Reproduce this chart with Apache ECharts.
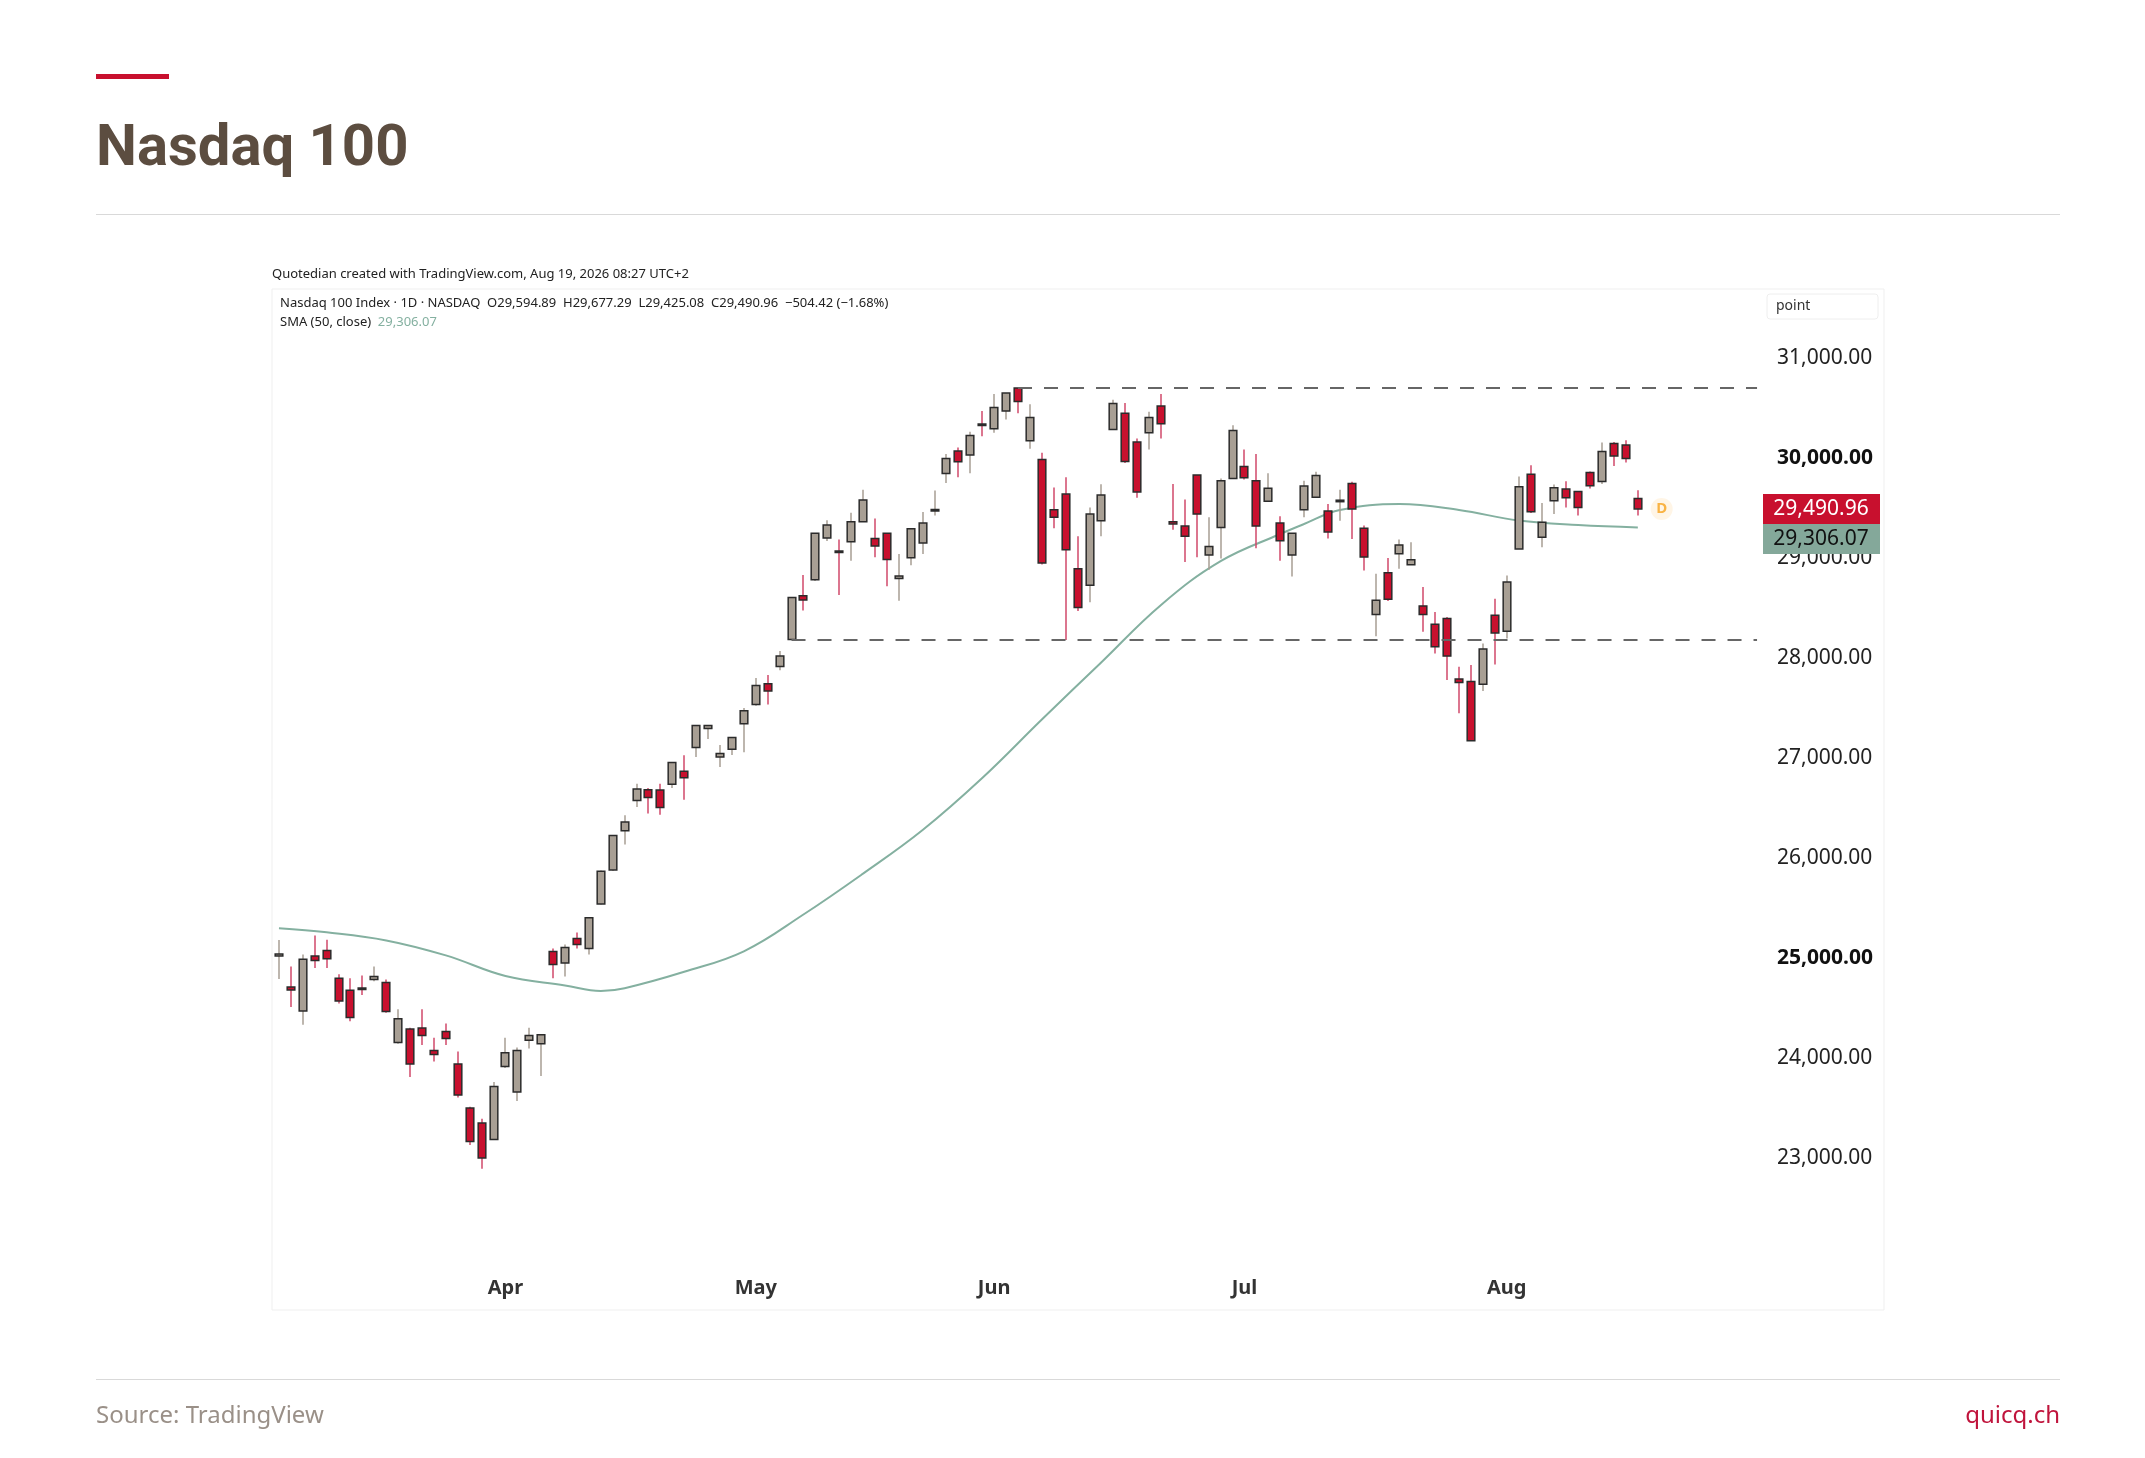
<!DOCTYPE html>
<html><head><meta charset="utf-8">
<script src="https://cdn.jsdelivr.net/npm/echarts@6/dist/echarts.min.js"></script>
<style>html,body{margin:0;padding:0;background:#fff}#c{width:2145px;height:1458px}</style>
</head><body><div id="c"></div>
<script>
// Open, Close, Low, High per trading day (Mar 5 – Aug 18, 2026)
const opens=[25020,24710,24470,25020,25076,24797,24677,24700,24785,24755,24155,24290,24300,24076,24266,23940,23500,23350,23184,
23916,23660,24178,24142,25065,24950,25195,25094,25540,25880,26272,26576,26683,26680,26737,26867,27105,27295,27010,27087,27343,
27534,27742,27914,28185,28622,28783,29200,29070,29163,29363,29195,29248,28794,29003,29150,29480,29844,30070,30030,30340,
30293,30470,30700,30173,29986,29483,29639,28892,28727,29372,30284,30448,30159,30253,30520,29363,29319,29830,29030,29306,29795,
29915,29772,29568,29350,29030,29483,29608,29470,29570,29745,29297,28434,28853,29042,28932,28521,28338,28394,27790,27764,27737,
28428,28268,29091,29838,29208,29573,29689,29666,29855,29765,30144,30130,29594.89];
const closes=[25040,24680,24987,24975,24993,24570,24404,24690,24815,24464,24393,23940,24226,24035,24196,23630,23166,23000,23716,
24053,24076,24226,24232,24935,25106,25136,25403,25868,26225,26361,26689,26606,26505,26956,26802,27325,27325,27046,27206,27473,
27724,27670,28021,28605,28580,29247,29330,29060,29363,29581,29119,28985,28820,29292,29350,29485,29995,29963,30226,30330,
30506,30649,30564,30404,28950,29408,29083,28505,29439,29630,30546,29964,29661,30404,30342,29341,29217,29439,29114,29772,30275,
29803,29319,29697,29172,29248,29719,29826,29261,29578,29490,29009,28577,28587,29131,28982,28434,28112,28019,27754,27173,28089,
28251,28760,29712,29463,29358,29702,29603,29506,29722,30064,30021,29995,29490.96];
const highs=[25180,24915,25035,25225,25183,24838,24797,24826,24915,24785,24488,24302,24488,24202,24344,24065,23512,23392,23760,
24202,24106,24302,24240,25094,25136,25255,25410,25875,26230,26427,26742,26700,26742,26960,27028,27330,27330,27130,27210,27500,
27800,27830,28069,28610,28830,29250,29378,29185,29452,29683,29394,29250,29039,29295,29461,29675,30040,30106,30262,30470,
30640,30650,30700,30537,30053,29706,29808,29217,29506,29737,30582,30550,30195,30462,30640,29741,29586,29830,29408,29795,30328,
30084,30040,29848,29417,29250,29772,29862,29541,29683,29762,29324,28843,28999,29184,29158,28710,28461,28411,27913,27930,28145,
28593,28826,29815,29928,29550,29735,29768,29666,29865,30154,30160,30177,29677.29];
const lows=[24790,24510,24332,24900,24900,24545,24368,24630,24767,24452,24143,23810,24130,23964,24130,23606,23130,22893,23184,
23900,23570,24094,23820,24797,24815,25094,25035,25535,25870,26135,26510,26445,26433,26700,26582,27010,27190,26910,27030,27057,
27522,27534,27878,28180,28474,28770,29170,28630,28972,29360,29008,28718,28572,28928,29039,29426,29750,29808,29848,30218,
30253,30386,30448,30093,28936,29297,28180,28470,28558,29217,30280,29950,29603,30084,30195,29283,28959,29008,28883,28994,29790,
29786,29097,29565,28972,28816,29408,29600,29195,29372,29190,28876,28218,28570,28893,28930,28262,28046,27780,27448,27170,27671,
27936,28195,29090,29450,29108,29440,29506,29424,29695,29740,29921,29954,29425.08];
// SMA(50) read at selected days (index -> value)
const smaIdx=[0,4,9,14,19,24,27,29,34,39,44,49,54,59,64,69,74,79,84,86,89,94,99,104,109,114];
const smaVal=[25298,25257,25176,25026,24820,24726,24670,24698,24862,25067,25435,25844,26280,26800,27385,27958,28531,28968,29240,29340,29480,29540,29480,29375,29330,29306.07];
const yTicks=[23000,24000,25000,26000,27000,28000,29000,30000,31000];
const resistance=30700, support=28180;
const lastClose=29490.96, lastSma=29306.07;

// trading-day categories
const holidays=['2026-04-03','2026-05-25','2026-06-19','2026-07-03'];
const cats=[];
{let d=new Date(Date.UTC(2026,2,5));
 while(cats.length<opens.length){const w=d.getUTCDay();const s=d.toISOString().slice(0,10);
  if(w!==0&&w!==6&&holidays.indexOf(s)<0)cats.push(s);d=new Date(d.getTime()+86400000);}}
const N=cats.length;
for(let i=0;i<10;i++)cats.push('pad'+i);
const monthNames=['Jan','Feb','Mar','Apr','May','Jun','Jul','Aug','Sep','Oct','Nov','Dec'];
const firstOfMonth={};
for(let i=1;i<N;i++){if(cats[i].slice(5,7)!==cats[i-1].slice(5,7))firstOfMonth[i]=monthNames[+cats[i].slice(5,7)-1];}

const ohlc=opens.map((o,i)=>[i,o,closes[i],lows[i],highs[i]]);
const sma=new Array(N).fill(null);smaIdx.forEach((k,j)=>sma[k]=smaVal[j]);

const chart=echarts.init(document.getElementById('c'));
const F='"Noto Sans", sans-serif';
const baseGraphic=[
  {type:'rect',shape:{x:96,y:74,width:73,height:5},style:{fill:'#c8102e'}},
  {type:'text',x:96,y:121,style:{text:'Nasdaq 100',font:'bold 58px Roboto, sans-serif',fill:'#5c4d40'}},
  {type:'rect',shape:{x:96,y:214,width:1964,height:1},style:{fill:'#d9d9d9'}},
  {type:'rect',shape:{x:96,y:1379,width:1964,height:1},style:{fill:'#d9d9d9'}},
  {type:'text',x:96,y:1404,style:{text:'Source: TradingView',font:'24px '+F,fill:'#9a9088'}},
  {type:'text',x:2060,y:1404,style:{text:'quicq.ch',font:'24px '+F,fill:'#c0143c',align:'right'}},
  {type:'rect',shape:{x:272,y:289,width:1612,height:1021},style:{fill:'none',stroke:'#efefef',lineWidth:1}},
  {type:'text',x:272,y:268,style:{text:'Quotedian created with TradingView.com, Aug 19, 2026 08:27 UTC+2',font:'13px '+F,fill:'#222'}},
  {type:'text',x:280,y:297,style:{text:'Nasdaq 100 Index · 1D · NASDAQ  O29,594.89  H29,677.29  L29,425.08  C29,490.96  −504.42 (−1.68%)',font:'13px '+F,fill:'#222'}},
  {type:'text',x:280,y:316,style:{rich:{a:{font:'13px '+F,fill:'#222'},b:{font:'13px '+F,fill:'#84b0a0'}},text:'{a|SMA (50, close)}  {b|29,306.07}'}},
  {type:'rect',shape:{x:1767,y:294,width:111,height:25,r:3},style:{fill:'#fff',stroke:'#eeeeee'}},
  {type:'text',x:1776,y:299,style:{text:'point',font:'14px '+F,fill:'#333'}}
];
chart.setOption({
 animation:false,
 graphic:baseGraphic,
 grid:{left:273,right:382,top:338,bottom:200},
 xAxis:{type:'category',data:cats,boundaryGap:true,
  axisLine:{show:false},axisTick:{show:false},splitLine:{show:false},
  axisLabel:{interval:(i)=>firstOfMonth[i]!==undefined,formatter:(v,i)=>firstOfMonth[i]||'',
   fontSize:20,fontWeight:'bold',color:'#333',fontFamily:F,margin:20}},
 yAxis:{type:'value',position:'right',min:22000,max:31200,interval:1000,scale:true,
  axisLine:{show:false},axisTick:{show:false},splitLine:{show:false},
  axisLabel:{margin:14,fontFamily:F,fontSize:21,color:'#222',
   formatter:v=>yTicks.indexOf(v)<0?'':(v%5000===0?'{b|':'{a|')+v.toLocaleString('en-US',{minimumFractionDigits:2})+'}',
   rich:{a:{fontSize:21,color:'#222',fontFamily:F},b:{fontSize:21,color:'#111',fontWeight:'bold',fontFamily:F}}}},
 series:[
  {type:'line',data:sma,connectNulls:true,smooth:0.4,symbol:'none',lineStyle:{color:'#84b0a0',width:2},z:1},
  {type:'line',data:[],markLine:{silent:true,symbol:'none',lineStyle:{color:'#666',type:[14,12],width:2},label:{show:false},
    data:[[{coord:[62,resistance]},{coord:[N+9,resistance]}],[{coord:[43,support]},{coord:[N+9,support]}]]}},
  {type:'custom',data:ohlc,encode:{x:0,y:[1,2,3,4]},z:3,
   renderItem:(params,api)=>{
    const i=api.value(0),o=api.value(1),c=api.value(2),l=api.value(3),h=api.value(4);
    const up=c>=o;const pO=api.coord([i,o]),pC=api.coord([i,c]),pL=api.coord([i,l]),pH=api.coord([i,h]);
    const w=api.size([1,0])[0]*0.64;const x=Math.round(pO[0]);
    const top=Math.min(pO[1],pC[1]);const hh=Math.max(Math.abs(pO[1]-pC[1]),1.5);
    return {type:'group',children:[
     {type:'line',shape:{x1:x,y1:pH[1],x2:x,y2:pL[1]},style:{stroke:up?'#a79e93':'#d0486a',lineWidth:1.5}},
     {type:'rect',shape:{x:x-w/2,y:top,width:w,height:hh},style:{fill:up?'#a89f94':'#c8102e',stroke:'#2b2b2b',lineWidth:1.5}}
    ]};
   }},
  {type:'scatter',data:[[N+1,lastClose]],symbolSize:22,itemStyle:{color:'#fff3e0'},
   label:{show:true,formatter:'D',position:'inside',color:'#f7a21b',fontWeight:'bold',fontSize:15,fontFamily:F},z:2}
 ]
});
// price tags on the right scale, placed from axis values
const yC=chart.convertToPixel({yAxisIndex:0},lastClose);
let yS=chart.convertToPixel({yAxisIndex:0},lastSma);
const th=30; if(yS-yC<th) yS=yC+th;
const tag=(y,txt,bg,fg)=>[
 {type:'rect',shape:{x:1763,y:y-th/2,width:117,height:th},style:{fill:bg},z:50},
 {type:'text',x:1821,y:y,style:{text:txt,font:'21px '+F,fill:fg,align:'center',verticalAlign:'middle'},z:51}];
chart.setOption({graphic:baseGraphic.concat(tag(yC,'29,490.96','#c8102e','#fff'),tag(yS,'29,306.07','#84a89a','#111'))});
</script></body></html>
